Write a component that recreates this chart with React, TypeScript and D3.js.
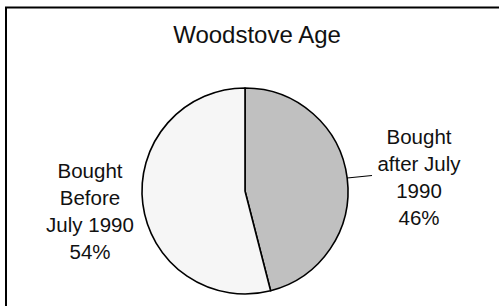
import React from "react";
import * as d3 from "d3";

const title = "Woodstove Age";
const categories = ["Bought after July 1990", "Bought Before July 1990"];
const values = [46, 54];
const labelLines = [
  ["Bought", "after July", "1990", "46%"],
  ["Bought", "Before", "July 1990", "54%"],
];
const colors = ["#c0c0c0", "#f6f6f6"];

const W = 499;
const H = 306;

export default function App() {
  const cx = 245;
  const cy = 191;
  const r = 103;
  const pie = d3.pie<number>().sort(null).value((d) => d)(values);
  const arc = d3.arc<d3.PieArcDatum<number>>().innerRadius(0).outerRadius(r);

  const labelPos = [
    { x: 419, y: 144 },
    { x: 90, y: 178 },
  ];
  const lineH = 27;

  // leader line from the pie edge of the first slice toward its label
  const leaderAngle = Math.acos(13 / r); // angle from top, clockwise
  const lx1 = cx + r * Math.sin(leaderAngle);
  const ly1 = cy - r * Math.cos(leaderAngle);

  return (
    <svg
      width={W}
      height={H}
      style={{ position: "absolute", left: 0, top: 0, display: "block" }}
      fontFamily="'Liberation Sans', Arial, sans-serif"
    >
      <rect x={0} y={0} width={W} height={H} fill="#ffffff" />
      <rect
        x={6}
        y={7.5}
        width={W + 10}
        height={H + 10}
        fill="none"
        stroke="#000"
        strokeWidth={2}
      />
      <text x={257} y={43} textAnchor="middle" fontSize={24} fill="#111">
        {title}
      </text>
      <g transform={`translate(${cx},${cy})`}>
        {pie.map((p, i) => (
          <path
            key={categories[i]}
            d={arc(p) || ""}
            fill={colors[i]}
            stroke="#000"
            strokeWidth={1.6}
            strokeLinejoin="round"
          />
        ))}
      </g>
      <line
        x1={lx1}
        y1={ly1}
        x2={372}
        y2={175.5}
        stroke="#000"
        strokeWidth={1.2}
      />
      {labelLines.map((lines, i) => (
        <text
          key={categories[i]}
          x={labelPos[i].x}
          y={labelPos[i].y}
          textAnchor="middle"
          fontSize={20.5}
          fill="#111"
        >
          {lines.map((l, j) => (
            <tspan key={j} x={labelPos[i].x} y={labelPos[i].y + j * lineH}>
              {l}
            </tspan>
          ))}
        </text>
      ))}
    </svg>
  );
}
